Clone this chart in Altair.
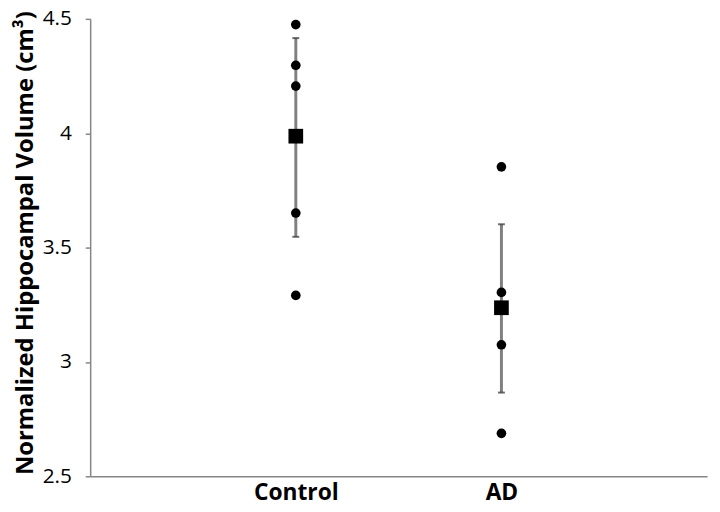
import altair as alt
import pandas as pd

groups = ["Control", "AD"]
control_vals = [4.475, 4.297, 4.206, 3.651, 3.291]
ad_vals = [3.853, 3.304, 3.075, 2.688]
means = [3.987, 3.237]
err_lo = [3.547, 2.866]
err_hi = [4.416, 3.602]
y_ticks = [2.5, 3, 3.5, 4, 4.5]

pts = pd.DataFrame(
    {"group": ["Control"] * len(control_vals) + ["AD"] * len(ad_vals),
     "value": control_vals + ad_vals}
)
summ = pd.DataFrame({"group": groups, "mean": means, "lo": err_lo, "hi": err_hi})

FONT = "Open Sans"
xenc = alt.X(
    "group:N",
    sort=groups,
    scale=alt.Scale(type="point", padding=1),
    axis=alt.Axis(
        title=None, ticks=False, labelAngle=0, domainColor="#868686",
        labelFont=FONT, labelFontWeight="bold", labelFontSize=23,
        labelColor="black", labelPadding=5, domainWidth=1.5,
    ),
)
yscale = alt.Scale(domain=[2.5, 4.5], nice=False, zero=False)
yaxis = alt.Axis(
    title="Normalized Hippocampal Volume (cm³)", values=y_ticks, format=".1~f",
    grid=False, domainColor="#868686", tickColor="#868686", tickSize=5,
    labelFont=FONT, labelFontSize=21, labelColor="black", labelPadding=14,
    titleFont=FONT, titleFontWeight="bold", titleFontSize=24, titleColor="black",
    titlePadding=5, titleY=226, domainWidth=1.5, tickWidth=1.5,
)

base_s = alt.Chart(summ)
rule = base_s.mark_rule(color="#808080", strokeWidth=3).encode(
    x=xenc, y=alt.Y("lo:Q", scale=yscale, axis=yaxis), y2="hi:Q"
)
cap_hi = base_s.mark_tick(color="#333333", size=7, thickness=2).encode(
    x=xenc, y=alt.Y("hi:Q", scale=yscale)
)
cap_lo = base_s.mark_tick(color="#333333", size=7, thickness=2).encode(
    x=xenc, y=alt.Y("lo:Q", scale=yscale)
)
dots = alt.Chart(pts).mark_circle(color="black", size=95, opacity=1).encode(
    x=xenc, y=alt.Y("value:Q", scale=yscale)
)
squares = base_s.mark_square(color="black", size=220, opacity=1).encode(
    x=xenc, y=alt.Y("mean:Q", scale=yscale)
)

chart = alt.layer(rule, cap_hi, cap_lo, dots, squares).properties(
    width=623, height=462,
    autosize=alt.AutoSizeParams(type="none"),
    padding={"left": 83, "top": 8.5, "right": 5, "bottom": 25.5},
).configure_view(stroke=None)

chart.save("out.html", embed_options={"renderer": "svg", "actions": False})
